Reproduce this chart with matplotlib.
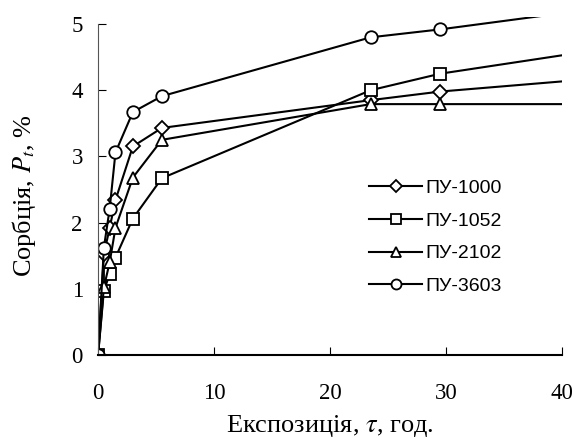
import numpy as np
import matplotlib.pyplot as plt

plt.rcParams['font.family'] = ['Liberation Serif', 'DejaVu Serif']
plt.rcParams['mathtext.fontset'] = 'stix'

# час експозиції [год]
tau = np.array([0, 0.5, 1, 1.5, 3, 5.5, 23.5, 29.5, 48])

# сорбція P_t [%]
p_1000 = np.array([0, 1.52, 1.92, 2.34, 3.15, 3.43, 3.85, 3.98, 4.25])
p_1052 = np.array([0, 0.97, 1.22, 1.47, 2.06, 2.67, 4.00, 4.25, 4.74])
p_2102 = np.array([0, 1.02, 1.40, 1.92, 2.68, 3.25, 3.79, 3.79, 3.79])
p_3603 = np.array([0, 1.62, 2.21, 3.06, 3.67, 3.91, 4.80, 4.92, 5.35])

names = ['ПУ-1000', 'ПУ-1052', 'ПУ-2102', 'ПУ-3603']
series = [p_1000, p_1052, p_2102, p_3603]
markers = ['D', 's', '^', 'o']
msizes = [7.5, 8.5, 9, 9]

fig = plt.figure(figsize=(5.77, 4.38), dpi=100)
ax = fig.add_axes([0.170, 0.19, 0.804, 0.771])

for y, nm, mk, ms in zip(series, names, markers, msizes):
    ax.plot(tau, y, '-', color='black', lw=1.5, marker=mk, ms=ms,
            mfc='white', mec='black', mew=1.3, label=nm)

ax.set_xlim(0, 40)
ax.set_ylim(0, 5.106)
ax.set_xticks([0, 10, 20, 30, 40])
ax.set_yticks([0, 1, 2, 3, 4, 5])
ax.spines['top'].set_visible(False)
ax.spines['right'].set_visible(False)
ax.spines['left'].set_bounds(0, 5)
ax.spines['left'].set_color('#555555')
ax.spines['left'].set_linewidth(0.8)
ax.spines['bottom'].set_linewidth(1.5)
ax.tick_params(direction='in', length=6, labelsize=16.5)
ax.tick_params(axis='y', pad=11)
ax.tick_params(axis='x', pad=20)

ax.set_xlabel('Експозиція, $\\tau$, год.', fontsize=19, labelpad=7)
ax.set_ylabel('Сорбція, $P_t$, %', fontsize=19)
ax.yaxis.set_label_coords(-0.13, 0.47)

leg = ax.legend(loc='upper left', bbox_to_anchor=(0.585, 0.52), frameon=False,
                prop={'family': 'Liberation Sans', 'size': 14},
                handlelength=2.7, handletextpad=0.15, labelspacing=0.78,
                markerscale=0.8, borderpad=0, borderaxespad=0)

fig.savefig('out.png', dpi=100)
